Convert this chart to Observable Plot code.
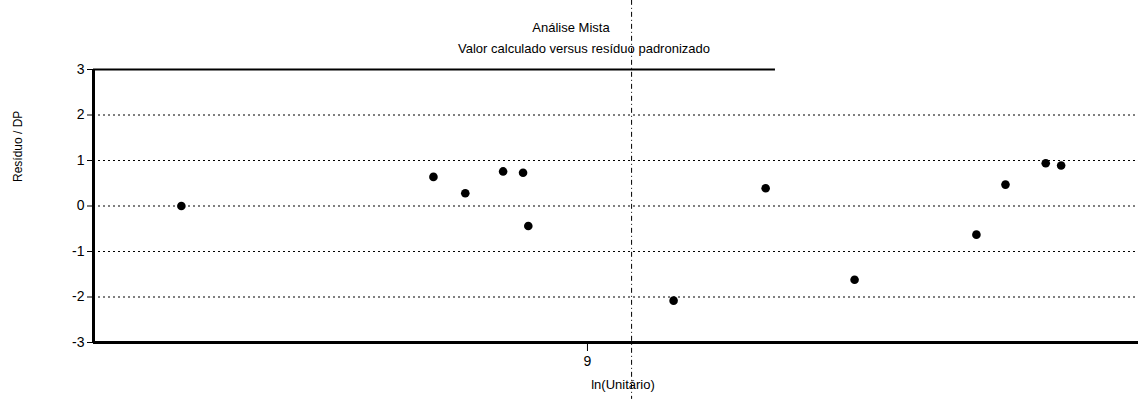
<!DOCTYPE html>
<html>
<head>
<meta charset="utf-8">
<script src="https://cdn.jsdelivr.net/npm/d3@7"></script>
<script src="https://cdn.jsdelivr.net/npm/@observablehq/plot@0.6"></script>
<style>
  html, body { margin: 0; padding: 0; background: #fff; }
  #chart svg { display: block; }
</style>
</head>
<body>
<div id="chart"></div>
<script>
// Data
const lnUnitario = [7.840, 8.560, 8.651, 8.759, 8.816, 8.831, 9.246, 9.509, 9.763, 10.111, 10.194, 10.309, 10.353];
const residuoDP  = [0.00, 0.64, 0.28, 0.76, 0.73, -0.44, -2.08, 0.39, -1.62, -0.63, 0.47, 0.94, 0.89];
const yTicks = [3, 2, 1, 0, -1, -2, -3];
const gridLevels = [2, 1, 0, -1, -2];
const xTicks = [9];
const foldX = [9.126];
const foldSpan = [4.52, -4.25];
const topLineEnd = [9.537];
const titleText = "Análise Mista";
const subtitleText = "Valor calculado versus resíduo padronizado";
const yLabel = "Resíduo / DP";
const xLabel = "ln(Unitário)";

const points = lnUnitario.map((x, i) => ({x, y: residuoDP[i]}));
const font = "'Liberation Sans', Arial, sans-serif";
const fmt = d => String(d);

const chart = Plot.plot({
  width: 1138,
  height: 399,
  marginTop: 69,
  marginBottom: 57,
  marginLeft: 93,
  marginRight: 0,
  style: {fontFamily: font, fontSize: "12px", color: "#000", background: "#fff"},
  x: {domain: [7.589, 10.574]},
  y: {domain: [-3, 3]},
  marks: [
    Plot.ruleY(gridLevels, {stroke: "#000", strokeWidth: 1, strokeDasharray: "2,3"}),
    Plot.ruleY([3], {x1: 7.589, x2: topLineEnd[0], stroke: "#000", strokeWidth: 2}),
    Plot.ruleX(foldX, {y1: foldSpan[0], y2: foldSpan[1], stroke: "#000", strokeWidth: 1, strokeDasharray: "5,3,1,3"}),
    Plot.axisY(yTicks, {ticks: yTicks, tickFormat: fmt, tickSize: 6, tickPadding: 3, fontSize: 14, label: null}),
    Plot.axisX(xTicks, {ticks: xTicks, tickFormat: fmt, tickSize: 9, tickPadding: 5, fontSize: 14, label: null}),
    Plot.ruleX([7.589], {stroke: "#000", strokeWidth: 3}),
    Plot.ruleY([-3], {stroke: "#000", strokeWidth: 3}),
    Plot.dot(points, {x: "x", y: "y", r: 4.3, fill: "#000", stroke: "none"}),
    Plot.text([titleText], {frameAnchor: "top", dx: -45, dy: -47, fontSize: 13, fill: "#000"}),
    Plot.text([subtitleText], {frameAnchor: "top", dx: -32, dy: -26, fontSize: 13, fill: "#000"}),
    Plot.text([xLabel], {frameAnchor: "bottom", dx: 7, dy: 46, fontSize: 13, fill: "#000"}),
    Plot.text([yLabel], {frameAnchor: "left", dx: -75, dy: -24, rotate: -90, fontSize: 12, fill: "#000"})
  ]
});
document.getElementById("chart").appendChild(chart);
</script>
</body>
</html>
